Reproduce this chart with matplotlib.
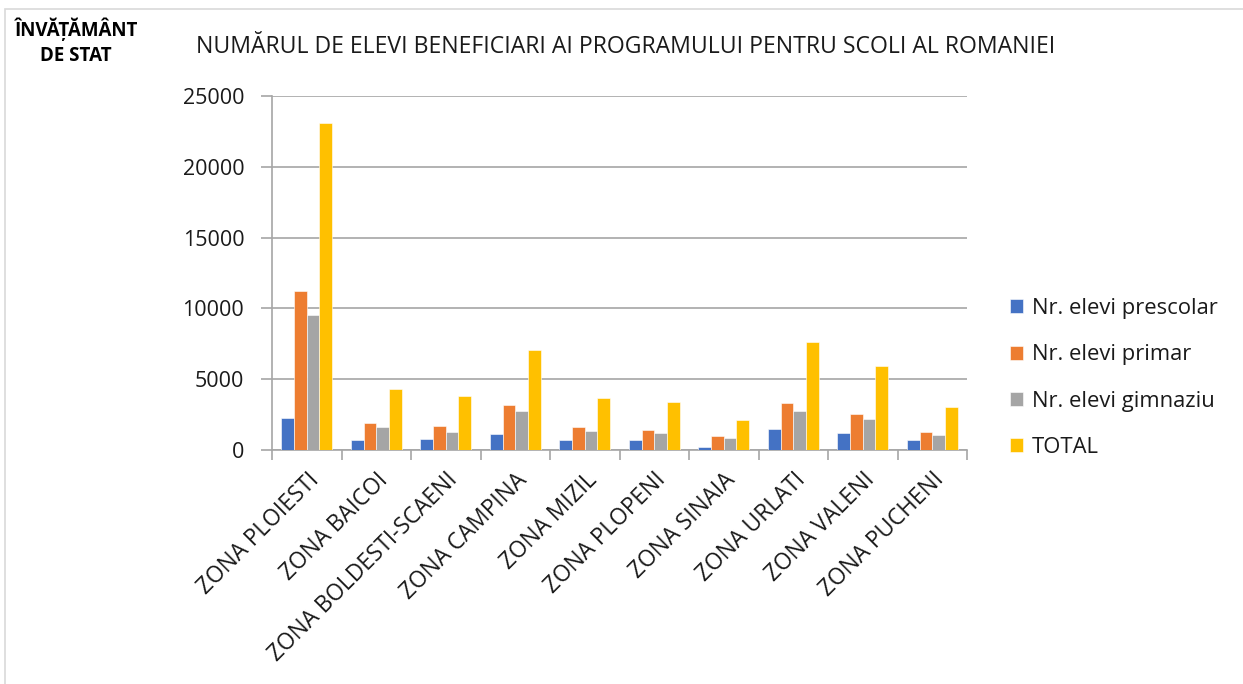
import matplotlib
matplotlib.use("Agg")
import matplotlib.pyplot as plt
import numpy as np
from matplotlib.patches import Rectangle

plt.rcParams['font.family'] = ['Open Sans', 'DejaVu Sans']

categories = ["ZONA PLOIESTI", "ZONA BAICOI", "ZONA BOLDESTI-SCAENI", "ZONA CAMPINA",
              "ZONA MIZIL", "ZONA PLOPENI", "ZONA SINAIA", "ZONA URLATI",
              "ZONA VALENI", "ZONA PUCHENI"]
prescolar = [2260, 710, 800, 1110, 690, 730, 240, 1510, 1180, 690]
primar = [11200, 1930, 1700, 3180, 1600, 1440, 970, 3340, 2540, 1250]
gimnaziu = [9530, 1600, 1270, 2750, 1370, 1200, 830, 2750, 2190, 1060]
total = [23070, 4290, 3840, 7060, 3670, 3370, 2100, 7600, 5910, 3060]

series_names = ["Nr. elevi prescolar", "Nr. elevi primar", "Nr. elevi gimnaziu", "TOTAL"]
series_values = [prescolar, primar, gimnaziu, total]
colors = ["#4472C4", "#ED7D31", "#A5A5A5", "#FFC000"]
yticks = [0, 5000, 10000, 15000, 20000, 25000]

fig = plt.figure(figsize=(12.43, 6.84), dpi=100)
ax = fig.add_axes([272/1243, 1-450/684, (967-272)/1243, (450-96)/684])

x = np.arange(len(categories))
w = 0.182
for i, (name, vals, c) in enumerate(zip(series_names, series_values, colors)):
    ax.bar(x + (i - 1.5) * w, vals, width=w, color=c, label=name,
           edgecolor='white', linewidth=0.4, zorder=3)

ax.set_xlim(-0.5, len(categories) - 0.5)
ax.set_ylim(0, 25000)
ax.set_yticks(yticks)
ax.set_yticklabels([str(v) for v in yticks], fontsize=15.5, color='#1a1a1a')
ax.yaxis.grid(True, color='#A6A6A6', linewidth=1.2, zorder=0)
ax.tick_params(axis='y', length=8, color='#A6A6A6', width=1.2, pad=12)

ax.set_xticks(np.arange(-0.5, len(categories), 1.0), minor=False)
ax.set_xticklabels([])
ax.set_xticks(x, minor=True)
ax.set_xticklabels(categories, minor=True, rotation=45, ha='right',
                   rotation_mode='anchor', fontsize=16.3, color='#1a1a1a')
ax.tick_params(axis='x', which='major', length=7, color='#A6A6A6', width=1.2)
ax.tick_params(axis='x', which='minor', length=0, pad=13)

for side in ['top', 'right']:
    ax.spines[side].set_visible(False)
for side in ['left', 'bottom']:
    ax.spines[side].set_color('#A6A6A6')
    ax.spines[side].set_linewidth(1.2)

fig.text(196/1243, 1-47/684, "NUMĂRUL DE ELEVI BENEFICIARI AI PROGRAMULUI PENTRU SCOLI AL ROMANIEI",
         fontsize=16.6, ha='left', va='center', color='#1a1a1a')
fig.text(76/1243, 1-42/684, "ÎNVĂȚĂMÂNT\nDE STAT", fontsize=13.5, fontweight='bold',
         ha='center', va='center', linespacing=1.35)

leg = ax.legend(loc='center left', bbox_to_anchor=(990/1243, 1-378/684),
                bbox_transform=fig.transFigure, frameon=False, fontsize=15.8,
                handlelength=0.6, handleheight=0.6, handletextpad=0.4,
                labelspacing=1.15)
for t in leg.get_texts():
    t.set_color('#1a1a1a')

# outer border
fig.add_artist(Rectangle((5/1243, -0.01), 1.2, 1-9/684+0.01, transform=fig.transFigure,
                         fill=False, edgecolor='#D9D9D9', linewidth=1.2))

fig.savefig("out.png", dpi=100)
